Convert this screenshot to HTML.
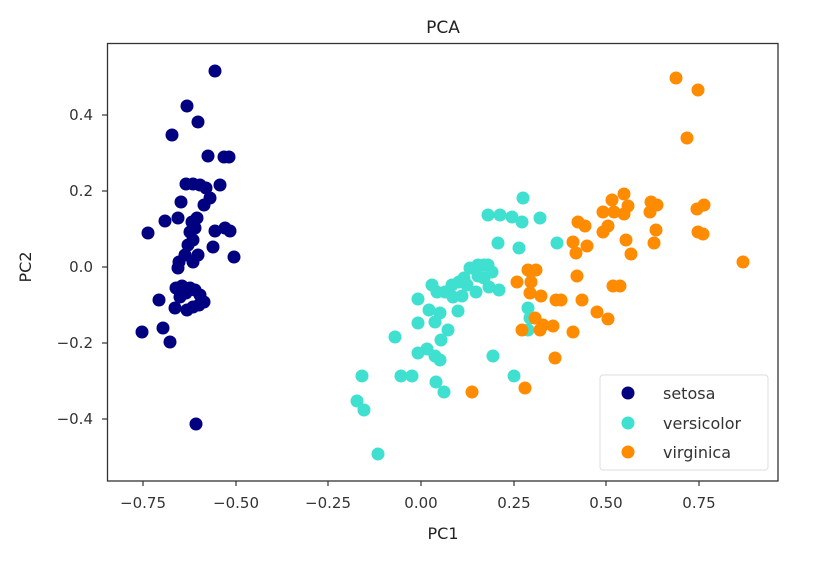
<!DOCTYPE html>
<html><head><meta charset="utf-8"><style>
html,body{margin:0;padding:0;background:#fff;}
svg{display:block;font-family:"DejaVu Sans","Liberation Sans",sans-serif;}
</style></head><body>
<svg width="834" height="564" viewBox="0 0 834 564">
<rect width="834" height="564" fill="#fff"/>
<text x="443" y="33" font-size="17" text-anchor="middle" fill="#222">PCA</text>
<g fill="#000080">
<circle cx="215" cy="71" r="6.5"/><circle cx="187" cy="106" r="6.5"/><circle cx="198" cy="122" r="6.5"/><circle cx="172" cy="135" r="6.5"/><circle cx="208" cy="156" r="6.5"/><circle cx="224" cy="157" r="6.5"/><circle cx="229" cy="157" r="6.5"/><circle cx="220" cy="185" r="6.5"/><circle cx="186" cy="184" r="6.5"/><circle cx="193" cy="184" r="6.5"/><circle cx="200" cy="185" r="6.5"/><circle cx="206" cy="188" r="6.5"/><circle cx="210" cy="198" r="6.5"/><circle cx="204" cy="205" r="6.5"/><circle cx="181" cy="202" r="6.5"/><circle cx="165" cy="221" r="6.5"/><circle cx="148" cy="233" r="6.5"/><circle cx="178" cy="218" r="6.5"/><circle cx="192" cy="222" r="6.5"/><circle cx="197" cy="218" r="6.5"/><circle cx="195" cy="228" r="6.5"/><circle cx="190" cy="232" r="6.5"/><circle cx="215" cy="231" r="6.5"/><circle cx="225" cy="228" r="6.5"/><circle cx="230" cy="231" r="6.5"/><circle cx="213" cy="247" r="6.5"/><circle cx="234" cy="257" r="6.5"/><circle cx="188" cy="245" r="6.5"/><circle cx="193" cy="240" r="6.5"/><circle cx="185" cy="255" r="6.5"/><circle cx="179" cy="262" r="6.5"/><circle cx="178" cy="268" r="6.5"/><circle cx="193" cy="262" r="6.5"/><circle cx="198" cy="255" r="6.5"/><circle cx="176" cy="288" r="6.5"/><circle cx="182" cy="286" r="6.5"/><circle cx="190" cy="288" r="6.5"/><circle cx="195" cy="290" r="6.5"/><circle cx="200" cy="295" r="6.5"/><circle cx="204" cy="302" r="6.5"/><circle cx="159" cy="300" r="6.5"/><circle cx="175" cy="308" r="6.5"/><circle cx="187" cy="310" r="6.5"/><circle cx="193" cy="307" r="6.5"/><circle cx="199" cy="305" r="6.5"/><circle cx="142" cy="332" r="6.5"/><circle cx="163" cy="328" r="6.5"/><circle cx="170" cy="342" r="6.5"/><circle cx="196" cy="424" r="6.5"/><circle cx="186" cy="293" r="6.5"/><circle cx="180" cy="297" r="6.5"/>
</g>
<g fill="#40E0D0">
<circle cx="523" cy="198" r="6.5"/><circle cx="488" cy="215" r="6.5"/><circle cx="500" cy="215" r="6.5"/><circle cx="512" cy="217" r="6.5"/><circle cx="540" cy="218" r="6.5"/><circle cx="522" cy="222" r="6.5"/><circle cx="498" cy="243" r="6.5"/><circle cx="519" cy="248" r="6.5"/><circle cx="557" cy="243" r="6.5"/><circle cx="484" cy="265" r="6.5"/><circle cx="478" cy="265" r="6.5"/><circle cx="470" cy="268" r="6.5"/><circle cx="488" cy="265" r="6.5"/><circle cx="492" cy="272" r="6.5"/><circle cx="478" cy="276" r="6.5"/><circle cx="464" cy="278" r="6.5"/><circle cx="459" cy="282" r="6.5"/><circle cx="452" cy="285" r="6.5"/><circle cx="445" cy="292" r="6.5"/><circle cx="432" cy="285" r="6.5"/><circle cx="418" cy="299" r="6.5"/><circle cx="437" cy="292" r="6.5"/><circle cx="453" cy="297" r="6.5"/><circle cx="462" cy="296" r="6.5"/><circle cx="489" cy="287" r="6.5"/><circle cx="499" cy="290" r="6.5"/><circle cx="476" cy="292" r="6.5"/><circle cx="429" cy="310" r="6.5"/><circle cx="440" cy="313" r="6.5"/><circle cx="458" cy="311" r="6.5"/><circle cx="435" cy="322" r="6.5"/><circle cx="418" cy="323" r="6.5"/><circle cx="528" cy="308" r="6.5"/><circle cx="530" cy="318" r="6.5"/><circle cx="528" cy="330" r="6.5"/><circle cx="448" cy="330" r="6.5"/><circle cx="441" cy="340" r="6.5"/><circle cx="427" cy="349" r="6.5"/><circle cx="418" cy="353" r="6.5"/><circle cx="395" cy="337" r="6.5"/><circle cx="493" cy="356" r="6.5"/><circle cx="435" cy="356" r="6.5"/><circle cx="401" cy="376" r="6.5"/><circle cx="412" cy="376" r="6.5"/><circle cx="436" cy="382" r="6.5"/><circle cx="444" cy="392" r="6.5"/><circle cx="514" cy="376" r="6.5"/><circle cx="362" cy="376" r="6.5"/><circle cx="357" cy="401" r="6.5"/><circle cx="364" cy="410" r="6.5"/><circle cx="378" cy="454" r="6.5"/><circle cx="440" cy="360" r="6.5"/><circle cx="467" cy="285" r="6.5"/><circle cx="484" cy="278" r="6.5"/><circle cx="531" cy="272" r="6.5"/>
</g>
<g fill="#FF8C00">
<circle cx="676" cy="78" r="6.5"/><circle cx="698" cy="90" r="6.5"/><circle cx="687" cy="138" r="6.5"/><circle cx="624" cy="194" r="6.5"/><circle cx="651" cy="202" r="6.5"/><circle cx="657" cy="205" r="6.5"/><circle cx="628" cy="206" r="6.5"/><circle cx="614" cy="212" r="6.5"/><circle cx="603" cy="212" r="6.5"/><circle cx="578" cy="222" r="6.5"/><circle cx="608" cy="226" r="6.5"/><circle cx="650" cy="212" r="6.5"/><circle cx="704" cy="205" r="6.5"/><circle cx="697" cy="209" r="6.5"/><circle cx="698" cy="232" r="6.5"/><circle cx="656" cy="230" r="6.5"/><circle cx="573" cy="242" r="6.5"/><circle cx="587" cy="246" r="6.5"/><circle cx="603" cy="232" r="6.5"/><circle cx="626" cy="240" r="6.5"/><circle cx="631" cy="254" r="6.5"/><circle cx="576" cy="253" r="6.5"/><circle cx="654" cy="243" r="6.5"/><circle cx="536" cy="270" r="6.5"/><circle cx="528" cy="270" r="6.5"/><circle cx="531" cy="282" r="6.5"/><circle cx="577" cy="276" r="6.5"/><circle cx="530" cy="293" r="6.5"/><circle cx="541" cy="296" r="6.5"/><circle cx="556" cy="300" r="6.5"/><circle cx="582" cy="300" r="6.5"/><circle cx="613" cy="286" r="6.5"/><circle cx="620" cy="286" r="6.5"/><circle cx="597" cy="312" r="6.5"/><circle cx="608" cy="319" r="6.5"/><circle cx="535" cy="318" r="6.5"/><circle cx="543" cy="325" r="6.5"/><circle cx="553" cy="326" r="6.5"/><circle cx="522" cy="330" r="6.5"/><circle cx="573" cy="332" r="6.5"/><circle cx="555" cy="358" r="6.5"/><circle cx="525" cy="388" r="6.5"/><circle cx="472" cy="392" r="6.5"/><circle cx="743" cy="262" r="6.5"/><circle cx="703" cy="234" r="6.5"/><circle cx="561" cy="300" r="6.5"/><circle cx="517" cy="282" r="6.5"/><circle cx="624" cy="214" r="6.5"/><circle cx="612" cy="200" r="6.5"/><circle cx="540" cy="330" r="6.5"/><circle cx="585" cy="226" r="6.5"/>
</g>
<rect x="107.5" y="43.5" width="670.5" height="437.5" fill="none" stroke="#333" stroke-width="1.3"/>
<g stroke="#333" stroke-width="1.2">
<line x1="143" y1="481" x2="143" y2="486"/><line x1="236" y1="481" x2="236" y2="486"/><line x1="328" y1="481" x2="328" y2="486"/><line x1="421" y1="481" x2="421" y2="486"/><line x1="514" y1="481" x2="514" y2="486"/><line x1="606" y1="481" x2="606" y2="486"/><line x1="699" y1="481" x2="699" y2="486"/>
<line x1="102" y1="115" x2="107" y2="115"/><line x1="102" y1="191" x2="107" y2="191"/><line x1="102" y1="267" x2="107" y2="267"/><line x1="102" y1="343" x2="107" y2="343"/><line x1="102" y1="419" x2="107" y2="419"/>
</g>
<g font-size="15" fill="#333" text-anchor="middle">
<text x="143" y="508">−0.75</text><text x="236" y="508">−0.50</text><text x="328" y="508">−0.25</text><text x="421" y="508">0.00</text><text x="514" y="508">0.25</text><text x="606" y="508">0.50</text><text x="699" y="508">0.75</text>
</g>
<g font-size="15" fill="#333" text-anchor="end">
<text x="93" y="120">0.4</text><text x="93" y="196">0.2</text><text x="93" y="272">0.0</text><text x="93" y="348">−0.2</text><text x="93" y="424">−0.4</text>
</g>
<text x="443" y="539" font-size="16" text-anchor="middle" fill="#222">PC1</text>
<text transform="translate(31,267) rotate(-90)" font-size="16" text-anchor="middle" fill="#222">PC2</text>
<rect x="600" y="375" width="168" height="95" rx="3" fill="#fff" fill-opacity="0.85" stroke="#ddd"/>
<circle cx="628" cy="393" r="6.5" fill="#000080"/>
<circle cx="628" cy="423" r="6.5" fill="#40E0D0"/>
<circle cx="628" cy="452" r="6.5" fill="#FF8C00"/>
<g font-size="16" fill="#333">
<text x="663" y="399">setosa</text><text x="663" y="429">versicolor</text><text x="663" y="458">virginica</text>
</g>
</svg>
</body></html>
